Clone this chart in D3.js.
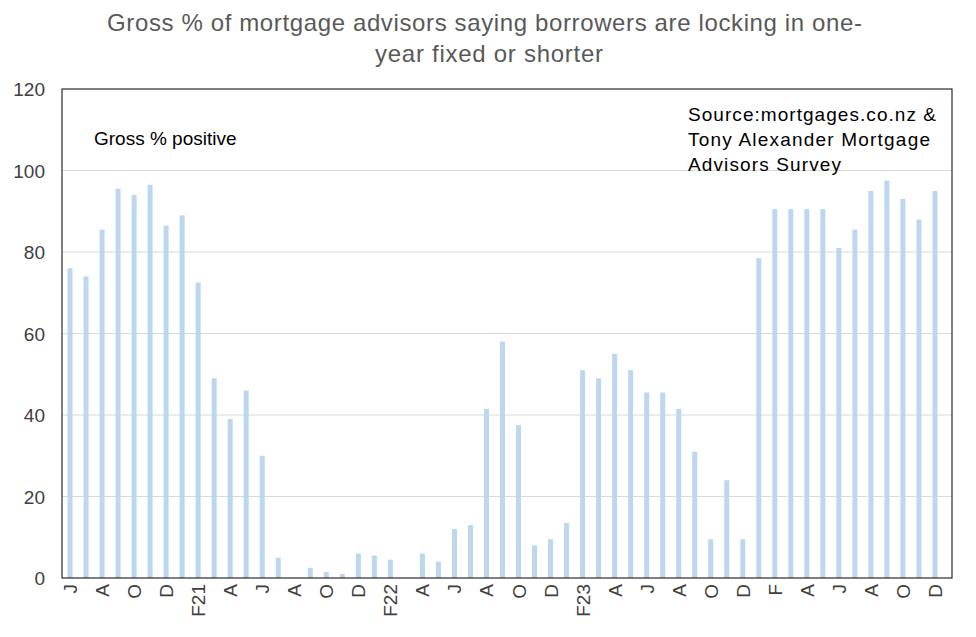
<!DOCTYPE html>
<html><head><meta charset="utf-8">
<script src="https://cdn.jsdelivr.net/npm/d3@7"></script>
<style>body{margin:0;background:#fff}text{font-family:"Liberation Sans",Arial,sans-serif}</style>
</head><body><svg id="c" width="976" height="637"></svg>
<script>
// Jun 2020 .. Dec 2024, every month
const months = ["J","J","A","S","O","N","D","J","F21","M","A","M","J","J","A","S","O","N","D","J","F22","M","A","M","J","J","A","S","O","N","D","J","F23","M","A","M","J","J","A","S","O","N","D","J","F","M","A","M","J","J","A","S","O","N","D"];
const values = [76,74,85.5,95.5,94,96.5,86.5,89,72.5,49,39,46,30,5,0,2.5,1.5,1,6,5.5,4.5,0,6,4,12,13,41.5,58,37.5,8,9.5,13.5,51,49,55,51,45.5,45.5,41.5,31,9.5,24,9.5,78.5,90.5,90.5,90.5,90.5,81,85.5,95,97.5,93,88,95];
const yTicks = [0,20,40,60,80,100,120];

const svg = d3.select("#c");
const L = 62, R = 952, T = 89, B = 578;
const idx = d3.range(months.length);
const x = d3.scaleBand().domain(idx).range([L, 943]);
const y = d3.scaleLinear().domain([0, 120]).range([B, T]);

// 그리드
svg.append("g").selectAll("line").data(yTicks.slice(1, -1)).join("line")
  .attr("x1", L).attr("x2", R).attr("y1", d => y(d)).attr("y2", d => y(d))
  .attr("stroke", "#d9d9d9");

svg.append("g").selectAll("rect").data(values).join("rect")
  .attr("x", (d, i) => x(i) + x.bandwidth() / 2 - 2.5).attr("width", 5)
  .attr("y", d => y(d)).attr("height", d => B - y(d))
  .attr("fill", "#bdd7ee");

svg.append("rect").attr("x", L).attr("y", T).attr("width", R - L).attr("height", B - T)
  .attr("fill", "none").attr("stroke", "#000").attr("stroke-width", 1);

svg.append("g").selectAll("text").data(yTicks).join("text")
  .attr("x", 45).attr("y", d => y(d) + 7).attr("text-anchor", "end")
  .attr("font-size", 19).attr("fill", "#404040").text(d => d);

svg.append("g").selectAll("text").data(idx.filter(i => i % 2 === 0)).join("text")
  .attr("transform", i => `translate(${x(i) + x.bandwidth() / 2 + 7},${B + 6}) rotate(-90)`)
  .attr("text-anchor", "end").attr("font-size", 19).attr("fill", "#404040")
  .text(i => months[i]);

const title = svg.append("text").attr("font-size", 24).attr("fill", "#595959");
title.append("tspan").attr("x", 107).attr("y", 31).attr("textLength", 755).text("Gross % of mortgage advisors saying borrowers are locking in one-");
title.append("tspan").attr("x", 375).attr("y", 62).attr("textLength", 228).text("year fixed or shorter");

svg.append("text").attr("x", 94).attr("y", 145).attr("font-size", 19).text("Gross % positive");
const src = svg.append("text").attr("font-size", 19);
[["Source:mortgages.co.nz  &", 248], ["Tony Alexander  Mortgage", 242], ["Advisors Survey", 153]].forEach(([t, len], i) =>
  src.append("tspan").attr("x", 688).attr("y", 121 + i * 25).attr("textLength", len).text(t));
</script></body></html>
